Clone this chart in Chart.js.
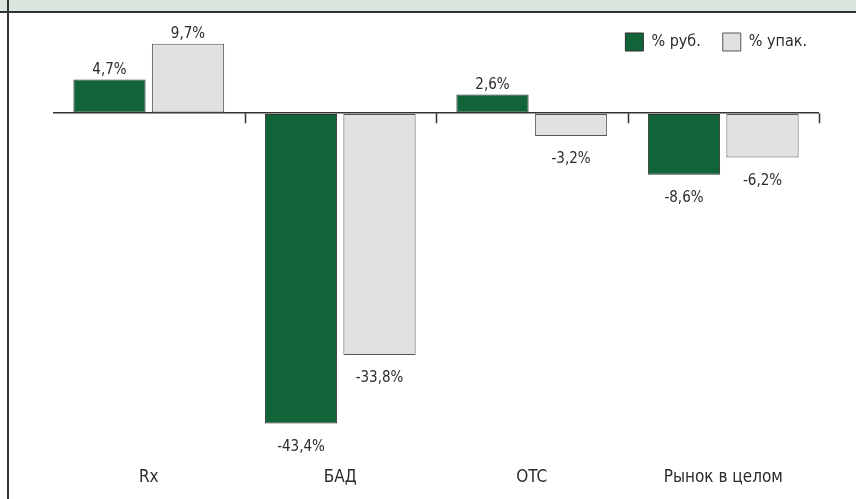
<!DOCTYPE html>
<html>
<head>
<meta charset="utf-8">
<script src="https://cdn.jsdelivr.net/npm/chart.js@4"></script>
<style>
  html, body { margin: 0; padding: 0; background: #fff; }
  #wrap { position: relative; width: 856px; height: 499px; overflow: hidden; }
  #band { position: absolute; left: 0; top: 0; width: 856px; height: 11px; background: #dbe7dc; border-bottom: 2px solid #333; }
  #leftLine { position: absolute; left: 7px; top: 0; width: 2px; height: 499px; background: #333; }
  canvas { position: absolute; left: 0; top: 0; }
</style>
</head>
<body>
<div id="wrap">
  <div id="band"></div>
  <div id="leftLine"></div>
  <canvas id="barChart" width="856" height="499"></canvas>
</div>
<script>
// categories and series
const categories = ["Rx", "БАД", "OTC", "Рынок в целом"];
const rubValues = [4.7, -43.4, 2.6, -8.6];   // % руб.
const packValues = [9.7, -33.8, -3.2, -6.2]; // % упак.

const FONT = "'DejaVu Sans Condensed', 'Liberation Sans Narrow', sans-serif";

// value labels above / below each bar
const valueLabels = {
    id: 'valueLabels',
    afterDatasetsDraw(chart) {
        const ctx = chart.ctx;
        ctx.save();
        ctx.font = "15px " + FONT;
        ctx.fillStyle = '#2b2b2b';
        ctx.textAlign = 'center';
        ctx.textBaseline = 'alphabetic';
        chart.data.datasets.forEach((ds, i) => {
            chart.getDatasetMeta(i).data.forEach((bar, j) => {
                const v = ds.data[j];
                const txt = v.toFixed(1).replace('.', ',') + '%';
                const y = v >= 0 ? bar.y - 6 : bar.y + 27;
                ctx.fillText(txt, bar.x, y);
            });
        });
        ctx.restore();
    }
};

// short tick marks between categories on the zero line
const categoryTicks = {
    id: 'categoryTicks',
    afterLayout(chart) {
        // legend sits a bit further right than its padding allows
        chart.legend.left += 10;
        chart.legend.right += 10;
    },
    afterDraw(chart) {
        const x = chart.scales.x;
        const y0 = chart.scales.y.getPixelForValue(0);
        const ctx = chart.ctx;
        ctx.save();
        ctx.strokeStyle = '#333';
        ctx.lineWidth = 1.5;
        ctx.beginPath();
        for (let i = 0; i < categories.length; i++) {
            let px;
            if (i < categories.length - 1) {
                px = (x.getPixelForValue(i) + x.getPixelForValue(i + 1)) / 2;
            } else {
                px = chart.chartArea.right;
            }
            px = Math.round(px) + 0.5;
            ctx.moveTo(px, y0);
            ctx.lineTo(px, y0 + 10);
        }
        ctx.stroke();
        ctx.restore();
    }
};

const ctx = document.getElementById('barChart').getContext('2d');
const myChart = new Chart(ctx, {
    type: 'bar',
    data: {
        labels: categories,
        datasets: [{
            label: '% руб.',
            data: rubValues,
            backgroundColor: '#116338',
            borderColor: '#333',
            borderWidth: 1,
            borderSkipped: false,
            clip: false
        }, {
            label: '% упак.',
            data: packValues,
            backgroundColor: '#e0e1e3',
            borderColor: '#555',
            borderWidth: 1,
            borderSkipped: false,
            clip: false
        }]
    },
    options: {
        responsive: false,
        animation: false,
        categoryPercentage: 0.82,
        barPercentage: 0.92,
        layout: {
            padding: { left: 53, right: 37, top: 11, bottom: 7 }
        },
        plugins: {
            tooltip: { enabled: false },
            legend: {
                position: 'top',
                align: 'end',
                labels: {
                    boxWidth: 18,
                    boxHeight: 18,
                    padding: 22,
                    color: '#2b2b2b',
                    font: { family: FONT, size: 16 }
                }
            }
        },
        scales: {
            x: {
                grid: { display: false, drawTicks: false },
                border: { display: false },
                ticks: {
                    padding: 4,
                    color: '#2b2b2b',
                    font: { family: FONT, size: 17 }
                }
            },
            y: {
                min: -49,
                max: 7.3,
                grid: {
                    drawTicks: false,
                    lineWidth: 1.5,
                    color: (c) => (c.tick && c.tick.value === 0 ? '#333' : 'rgba(0,0,0,0)')
                },
                border: { display: false },
                ticks: { display: false, stepSize: 10 }
            }
        }
    },
    plugins: [valueLabels, categoryTicks]
});
</script>
</body>
</html>
